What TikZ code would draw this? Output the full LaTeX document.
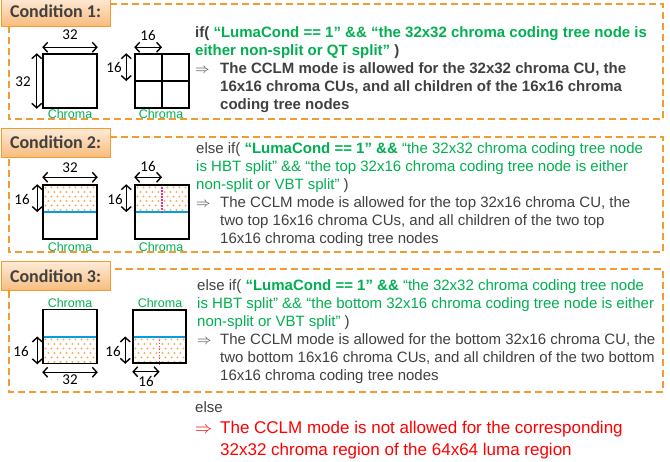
\documentclass[tikz,border=0pt]{standalone}
\usepackage{fontspec}
\setmainfont{Liberation Sans}
\newfontfamily\calib{Carlito}
\usetikzlibrary{arrows.meta}
\definecolor{dgray}{HTML}{404040}
\definecolor{grn}{HTML}{00B050}
\definecolor{org}{HTML}{F39B2F}
\definecolor{orgL}{HTML}{FDEBD9}
\definecolor{orgD}{HTML}{F8BC7C}
\definecolor{dotc}{HTML}{F7AE62}
\definecolor{blu}{HTML}{00A0E0}
\definecolor{pnk}{HTML}{E6308C}
\definecolor{rd}{HTML}{FF0000}
\newcommand\mydots[4]{%
 \begin{scope}
 \clip (#1,#2) rectangle (#3,#4);
 \foreach \r in {0,...,7}{\foreach \c in {0,...,10}{%
   \fill[dotc] ({#1+2.5+\c*6+mod(\r,2)*3},{#2+2.5+\r*4.5}) circle[radius=1.1pt];}}
 \end{scope}}
\tikzset{
 frame/.style={draw=org, line width=1.8pt, dash pattern=on 7pt off 4pt},
 lab/.style={draw=org, line width=0.8pt, top color=orgL, bottom color=orgD,
   minimum width=109pt, minimum height=29pt, inner sep=0,
   font=\calib\bfseries\fontsize{18}{18}\selectfont, text=dgray},
 txt/.style={anchor=base west, inner sep=0, align=left, text=dgray,
   font=\fontsize{15}{18}\selectfont},
 btxt/.style={txt, font=\bfseries\fontsize{15}{18}\selectfont},
 arr/.style={anchor=base west, inner sep=0, text=dgray, font=\fontsize{14}{14}\selectfont},
 sq/.style={draw=black, line width=1.5pt, minimum size=54pt, inner sep=0},
 num/.style={inner sep=0, font=\calib\fontsize{15}{15}\selectfont, text=black},
 chr/.style={inner sep=0, font=\fontsize{12.5}{12.5}\selectfont, text=grn},
 dim/.style={line width=1.4pt, {Straight Barb[length=4.5pt,width=10pt]}-{Straight Barb[length=4.5pt,width=10pt]}},
 bl/.style={draw=blu, line width=2pt},
 pk/.style={draw=pnk, line width=1.8pt, dash pattern=on 1.5pt off 1.5pt},
}
\begin{document}
\begin{tikzpicture}[x=1pt,y=-1pt]
\useasboundingbox (0,0) rectangle (670,461);
% frames
\draw[frame] (9,4) rectangle (663,119);
\draw[frame] (9,137) rectangle (663,252);
\draw[frame] (9,269) rectangle (663,392);
% labels
\node[lab] (c1) at (55.5,11.5) {Condition 1:};
\node[lab] (c2) at (55.5,142.5) {Condition 2:};
\node[lab] (c3) at (55.5,276) {Condition 3:};

% ---------- condition 1 figures
\node[sq] (q1a) at (70,81) {};
\node[sq] (q1b) at (162,81) {};
\draw[line width=1.5pt] (q1b.north) -- (q1b.south);
\draw[line width=1.5pt] (q1b.west) -- (q1b.east);
\draw[dim] ([yshift=6pt]q1a.north west) -- ([yshift=6pt]q1a.north east);
\draw[dim] ([xshift=-5.5pt]q1a.north west) -- ([xshift=-5.5pt]q1a.south west);
\draw[dim] ([yshift=6pt]q1b.north west) -- ([yshift=6pt]q1b.north);
\draw[dim] ([xshift=-8pt]q1b.north west) -- ([xshift=-8pt]q1b.west);
\node[num] (n1a) at (70,34.5) {32};
\node[num] (n1b) at (23,82) {32};
\node[num] (n1c) at (148,35) {16};
\node[num] (n1d) at (114,67) {16};
\node[chr] (h1a) at (70,114.5) {Chroma};
\node[chr] (h1b) at (161,114.5) {Chroma};

% ---------- condition 2 figures
\mydots{43}{185}{97}{212}
\mydots{135}{185}{189}{212}
\node[sq] (q2a) at (70,212) {};
\node[sq] (q2b) at (162,212) {};
\draw[bl] (q2a.west) -- (q2a.east);
\draw[bl] (q2b.west) -- (q2b.east);
\draw[pk] (q2b.north) -- (q2b.center);
\node[sq] at (q2a) {};
\node[sq] at (q2b) {};
\draw[dim] ([yshift=7pt]q2a.north west) -- ([yshift=7pt]q2a.north east);
\draw[dim] ([xshift=-5pt]q2a.north west) -- ([xshift=-5pt]q2a.west);
\draw[dim] ([yshift=7pt]q2b.north west) -- ([yshift=7pt]q2b.north);
\draw[dim] ([xshift=-8pt]q2b.north west) -- ([xshift=-8pt]q2b.west);
\node[num] (n2a) at (70,168) {32};
\node[num] (n2b) at (22,199) {16};
\node[num] (n2c) at (148,166) {16};
\node[num] (n2d) at (115,199) {16};
\node[chr] (h2a) at (70,247) {Chroma};
\node[chr] (h2b) at (161,247) {Chroma};

% ---------- condition 3 figures
\mydots{43}{337}{97}{363}
\mydots{133}{337}{186}{363}
\node[sq] (q3a) at (70,336.5) {};
\node[sq, minimum size=53pt] (q3b) at (159.5,336.5) {};
\draw[bl] (q3a.west) -- (q3a.east);
\draw[bl] (q3b.west) -- (q3b.east);
\draw[pk] (q3b.center) -- (q3b.south);
\node[sq] at (q3a) {};
\node[sq, minimum size=53pt] at (q3b) {};
\draw[dim] ([yshift=-8pt]q3a.south west) -- ([yshift=-8pt]q3a.south east);
\draw[dim] ([xshift=-5pt]q3a.west) -- ([xshift=-5pt]q3a.south west);
\draw[dim] ([yshift=-8pt]q3b.south west) -- ([yshift=-8pt]q3b.south);
\draw[dim] ([xshift=-7pt]q3b.west) -- ([xshift=-7pt]q3b.south west);
\node[num] (n3a) at (70,380) {32};
\node[num] (n3b) at (21,351) {16};
\node[num] (n3c) at (146,381) {16};
\node[num] (n3d) at (113,351) {16};
\node[chr] (h3a) at (70,303) {Chroma};
\node[chr] (h3b) at (160,303) {Chroma};

% ---------- texts condition 1 (anchor = baseline of last line)
\node[btxt] (t1a) at (195,55) {if( \textcolor{grn}{“LumaCond == 1” \&\& “the 32x32 chroma coding tree node is}\\
\textcolor{grn}{either non-split or QT split”} )};
\node[arr] (a1) at (195,73) {$\Rightarrow$};
\node[btxt] (t1b) at (220,109) {The CCLM mode is allowed for the 32x32 chroma CU, the\\
16x16 chroma CUs, and all children of the 16x16 chroma\\
coding tree nodes};

% ---------- texts condition 2
\node[txt] (t2a) at (196,189) {else if( \textcolor{grn}{\textbf{“LumaCond == 1” \&\&} “the 32x32 chroma coding tree node}\\
\textcolor{grn}{is HBT split” \&\& “the top 32x16 chroma coding tree node is either}\\
\textcolor{grn}{non-split or VBT split”} )};
\node[arr] (a2) at (196,207) {$\Rightarrow$};
\node[txt] (t2b) at (220,243) {The CCLM mode is allowed for the top 32x16 chroma CU, the\\
two top 16x16 chroma CUs, and all children of the two top\\
16x16 chroma coding tree nodes};

% ---------- texts condition 3
\node[txt] (t3a) at (197,326) {else if( \textcolor{grn}{\textbf{“LumaCond == 1” \&\&} “the 32x32 chroma coding tree node}\\
\textcolor{grn}{is HBT split” \&\& “the bottom 32x16 chroma coding tree node is either}\\
\textcolor{grn}{non-split or VBT split”} )};
\node[arr] (a3) at (197,344) {$\Rightarrow$};
\node[txt] (t3b) at (220,380) {The CCLM mode is allowed for the bottom 32x16 chroma CU, the\\
two bottom 16x16 chroma CUs, and all children of the two bottom\\
16x16 chroma coding tree nodes};

% ---------- else
\node[txt] (t4a) at (195,412) {else};
\node[arr, text=rd, font=\fontsize{17}{17}\selectfont] (a4) at (195,433) {$\Rightarrow$};
\node[txt, text=rd, font=\fontsize{17}{22}\selectfont] (t4b) at (220,455) {The CCLM mode is not allowed for the corresponding\\
32x32 chroma region of the 64x64 luma region};
\end{tikzpicture}
\end{document}
